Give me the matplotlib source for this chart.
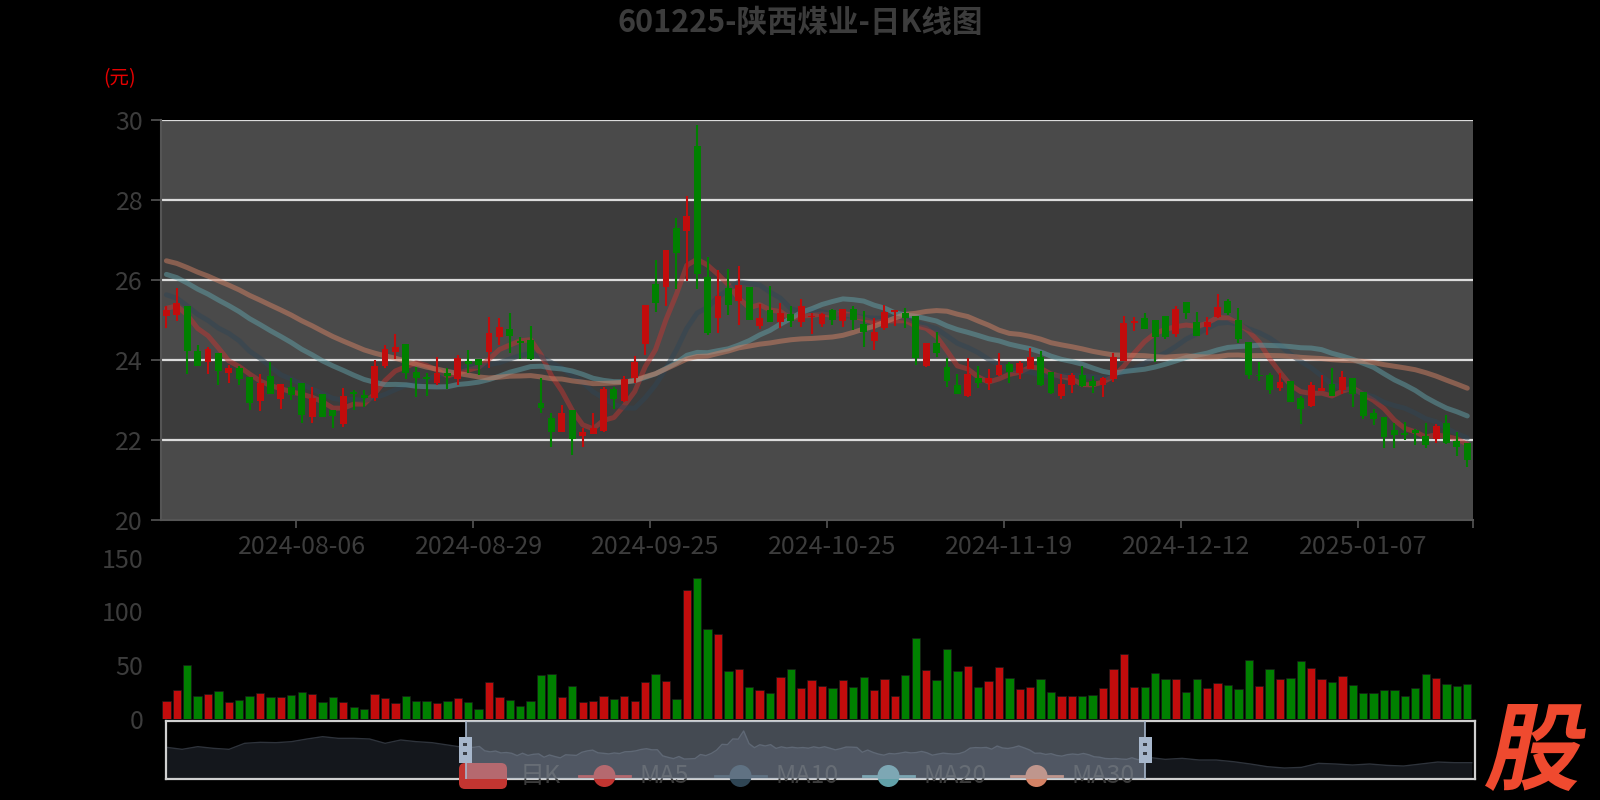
import numpy as np
import pandas as pd
import matplotlib
matplotlib.use("Agg")
import matplotlib.pyplot as plt
from matplotlib.patches import Rectangle, FancyBboxPatch, Circle, PathPatch
from matplotlib.textpath import TextPath
from matplotlib.font_manager import FontProperties
from matplotlib.transforms import Affine2D, blended_transform_factory

plt.rcParams["font.family"] = ["Noto Sans CJK SC", "DejaVu Sans"]

title = "601225-陕西煤业-日K线图"
unit_label = "(元)"

# trading days (weekdays minus exchange holidays)
holidays = ["2024-09-16", "2024-09-17", "2024-10-01", "2024-10-02", "2024-10-03",
            "2024-10-04", "2024-10-07", "2025-01-01"]
dates = pd.bdate_range("2024-07-18", "2025-01-21")
dates = dates[~dates.isin(pd.to_datetime(holidays))]
date_labels = list(dates.strftime("%Y-%m-%d"))

opens = [25.11, 25.14, 25.36, 24.24, 23.97, 24.18, 23.69, 23.80, 23.59, 22.99,
         23.61, 23.04, 23.33, 23.44, 22.58, 23.16, 22.76, 22.41, 23.21, 23.14,
         23.05, 23.86, 24.21, 24.41, 23.72, 23.59, 23.43, 23.68, 23.53, 23.99,
         24.03, 24.22, 24.59, 24.78, 24.49, 24.51, 22.93, 22.55, 22.22, 22.76,
         22.11, 22.16, 22.24, 23.28, 22.99, 23.55, 24.41, 25.91, 25.83, 27.30,
         27.24, 29.36, 26.09, 25.05, 25.80, 25.49, 25.83, 24.86, 25.26, 24.97,
         25.16, 24.97, 25.08, 24.91, 25.26, 24.99, 25.28, 24.91, 24.49, 24.80,
         25.21, 25.18, 25.11, 23.86, 24.43, 23.83, 23.39, 23.11, 23.55, 23.43,
         23.64, 23.90, 23.69, 23.79, 24.08, 23.72, 23.11, 23.39, 23.64, 23.49,
         23.39, 23.53, 23.99, 24.93, 25.07, 25.01, 25.11, 24.66, 25.47, 24.97,
         24.84, 25.08, 25.49, 25.01, 24.47, 23.61, 23.64, 23.30, 23.49, 23.05,
         22.86, 23.24, 23.41, 23.26, 23.55, 23.22, 22.69, 22.58, 22.26, 22.18,
         22.26, 22.11, 22.03, 22.43, 21.99, 21.93]
closes = [25.26, 25.43, 24.24, 23.87, 24.28, 23.74, 23.80, 23.54, 22.93, 23.43,
          23.16, 23.41, 23.14, 22.64, 23.05, 22.59, 22.62, 23.12, 23.16, 23.05,
          23.86, 24.28, 24.33, 23.68, 23.55, 23.53, 23.68, 23.62, 24.05, 23.90,
          23.89, 24.69, 24.83, 24.61, 24.43, 24.03, 22.80, 22.22, 22.68, 22.03,
          22.22, 22.30, 23.28, 23.03, 23.53, 23.97, 25.39, 25.43, 26.76, 26.69,
          27.61, 26.16, 24.68, 25.62, 25.39, 25.89, 25.01, 25.05, 24.97, 25.19,
          24.99, 25.36, 25.11, 25.16, 25.01, 25.28, 25.01, 24.72, 24.72, 25.22,
          25.26, 25.05, 24.05, 24.43, 24.19, 23.49, 23.16, 23.66, 23.43, 23.55,
          23.89, 23.72, 23.93, 24.08, 23.39, 23.18, 23.41, 23.64, 23.36, 23.35,
          23.55, 24.09, 24.94, 24.99, 24.78, 24.58, 24.59, 25.28, 25.19, 24.61,
          24.97, 25.33, 25.18, 24.53, 23.64, 23.61, 23.26, 23.47, 22.97, 22.78,
          23.39, 23.30, 23.11, 23.58, 23.16, 22.61, 22.53, 22.09, 22.14, 22.13,
          22.18, 21.89, 22.36, 21.93, 21.84, 21.51]
highs = [25.36, 25.80, 25.36, 24.39, 24.34, 24.18, 23.89, 23.86, 23.59, 23.66,
         23.95, 23.42, 23.55, 23.44, 23.34, 23.16, 22.76, 23.30, 23.26, 23.26,
         24.00, 24.39, 24.66, 24.41, 23.83, 23.68, 24.09, 23.80, 24.14, 24.26,
         24.03, 25.09, 25.05, 25.18, 24.59, 24.86, 23.55, 22.69, 22.89, 22.76,
         22.30, 22.69, 23.34, 23.33, 23.61, 24.11, 25.39, 26.51, 26.76, 27.55,
         28.11, 29.89, 26.59, 26.26, 26.28, 26.37, 25.83, 25.41, 25.86, 25.44,
         25.36, 25.53, 25.18, 25.19, 25.28, 25.28, 25.36, 25.24, 25.05, 25.39,
         25.26, 25.30, 25.11, 24.43, 24.72, 24.05, 23.66, 24.05, 23.85, 23.78,
         24.19, 23.97, 23.99, 24.30, 24.24, 23.72, 23.66, 23.69, 23.86, 23.61,
         23.59, 24.18, 25.11, 25.08, 25.18, 25.01, 25.11, 25.36, 25.47, 25.22,
         25.09, 25.66, 25.53, 25.30, 24.47, 23.97, 23.68, 23.69, 23.49, 23.11,
         23.47, 23.64, 23.80, 23.74, 23.55, 23.22, 22.78, 22.58, 22.43, 22.47,
         22.28, 22.43, 22.41, 22.64, 22.22, 21.93]
lows = [24.80, 24.99, 23.66, 23.86, 23.66, 23.38, 23.43, 23.38, 22.76, 22.74,
        23.15, 22.79, 23.01, 22.43, 22.43, 22.58, 22.30, 22.34, 22.76, 22.84,
        22.99, 23.80, 24.03, 23.53, 23.09, 23.11, 23.39, 23.28, 23.39, 23.68,
        23.64, 23.82, 24.39, 24.18, 24.03, 24.00, 22.68, 21.83, 22.20, 21.64,
        21.83, 22.15, 22.22, 22.78, 22.97, 23.44, 24.14, 25.22, 25.36, 25.78,
        25.99, 25.78, 24.64, 24.69, 25.14, 24.89, 25.00, 24.78, 24.97, 24.80,
        24.83, 24.83, 24.66, 24.84, 24.89, 24.84, 24.76, 24.34, 24.26, 24.76,
        24.86, 24.80, 23.89, 23.84, 24.09, 23.33, 23.15, 23.09, 23.30, 23.25,
        23.61, 23.44, 23.53, 23.78, 23.36, 23.17, 23.03, 23.18, 23.33, 23.19,
        23.08, 23.47, 23.99, 24.74, 24.78, 23.97, 24.53, 24.59, 25.03, 24.60,
        24.64, 25.05, 25.14, 24.44, 23.53, 23.49, 23.16, 23.24, 22.96, 22.41,
        22.83, 23.24, 23.10, 23.16, 22.84, 22.53, 22.39, 21.82, 21.82, 22.00,
        21.89, 21.80, 21.94, 21.92, 21.61, 21.33]
volumes = [16.4, 26.9, 50.1, 21.7, 23.2, 26.0, 15.8, 17.6, 21.4, 24.1,
           20.4, 20.4, 22.3, 25.1, 23.5, 16.1, 20.4, 16.1, 10.8, 9.6,
           23.2, 19.5, 14.6, 21.4, 17.0, 16.7, 14.6, 17.0, 19.8, 16.1,
           9.3, 34.1, 20.1, 17.6, 12.4, 16.7, 40.9, 41.8, 20.7, 30.9,
           15.8, 17.0, 21.4, 18.6, 21.7, 16.4, 34.7, 41.8, 35.3, 18.6,
           119.8, 130.9, 83.9, 78.6, 44.6, 46.7, 30.0, 26.9, 24.4, 39.0,
           46.5, 28.5, 36.2, 30.6, 29.1, 36.2, 30.0, 39.3, 26.9, 37.1,
           21.4, 41.1, 74.9, 45.5, 35.9, 64.7, 44.3, 48.9, 29.7, 35.0,
           48.6, 38.1, 27.5, 29.4, 37.1, 25.1, 21.4, 21.4, 21.4, 22.0,
           28.8, 46.4, 60.4, 30.0, 29.4, 43.0, 37.1, 37.1, 25.1, 37.1,
           28.5, 33.4, 31.2, 27.5, 54.5, 30.6, 46.4, 37.1, 38.3, 53.9,
           47.0, 36.8, 34.6, 39.6, 31.5, 24.4, 23.8, 26.9, 26.6, 21.7,
           28.8, 41.7, 37.7, 32.5, 30.6, 32.8]

# closes of the 29 sessions before the first shown day (feed the moving averages)
closes_before = [27.40, 27.35, 27.30, 27.25, 27.20, 27.15, 27.10, 27.05, 27.00, 26.90,
                 27.05, 26.95, 26.90, 26.80, 26.70, 26.60, 26.55, 26.45, 26.35, 26.25,
                 26.30, 26.15, 26.00, 25.80, 25.65, 25.13, 25.37, 25.55, 25.20]

# data shadow of the zoom slider outside the selected window
shadow_before = [25.14, 24.62, 25.31, 24.88, 24.62, 26.17, 26.43, 26.34, 26.60, 27.29,
                 27.89, 27.46, 27.46, 27.29, 26.17, 27.03, 26.60, 26.34, 25.74, 25.14]
shadow_after = [22.55, 22.03, 22.29, 21.86, 21.86, 21.43, 20.83, 20.14, 19.79, 19.96,
                21.00, 20.83, 20.57, 20.83, 20.48, 20.31, 20.83, 21.34, 21.17, 21.17]

ma_periods = [5, 10, 20, 30]
ma_names = ["MA5", "MA10", "MA20", "MA30"]
ma_colors = ["#c23531", "#2f4554", "#61a0a8", "#d48265"]

UP = "#c20c0c"
DOWN = "#008000"
TXT = "#3c3c3c"
W, H = 1600, 800


def box(x0, y0, x1, y1):
    return [x0 / W, 1 - y1 / H, (x1 - x0) / W, (y1 - y0) / H]


o = np.array(opens)
c = np.array(closes)
h = np.array(highs)
l = np.array(lows)
n = len(c)
x = np.arange(n)
prev = np.concatenate([[closes_before[-1]], c[:-1]])
up = (c > o) | ((c == o) & (c >= prev))
candle_colors = np.where(up, UP, DOWN)
vol_colors = np.where(c >= o, UP, DOWN)

all_closes = pd.Series(closes_before + closes)
mas = [all_closes.rolling(p).mean().to_numpy()[-n:] for p in ma_periods]

fig = plt.figure(figsize=(16, 8), dpi=100, facecolor="black")

# --- price panel
ax = fig.add_axes(box(161.2, 120.4, 1472.5, 520.4))
ax.set_facecolor("black")
for k, lo in enumerate(range(20, 30, 2)):
    ax.axhspan(lo, lo + 2, color="#4a4a4a" if k % 2 == 0 else "#3c3c3c", lw=0, zorder=0)
for y in range(22, 31, 2):
    ax.axhline(y, color="#dcdcdc", lw=1.6, zorder=1)

for ma, col in zip(mas, ma_colors):
    ax.plot(x, ma, color=col, lw=3.6, alpha=0.5, zorder=2, solid_capstyle="round")

ax.vlines(x, l, h, colors=candle_colors, lw=1.5, zorder=3)
body = np.maximum(np.abs(c - o), 0.03)
ax.bar(x, body, width=0.66, bottom=np.minimum(o, c), color=candle_colors, lw=0, zorder=4)

ax.set_xlim(-0.5, n - 0.5)
ax.set_ylim(20, 30)
ax.set_yticks(range(20, 31, 2))
label_idx = list(range(13, n, 17))
ax.set_xticks(label_idx)
ax.set_xticklabels([date_labels[i] for i in label_idx])
ax.set_xticks([i - 0.5 for i in label_idx] + [n - 0.5], minor=True)
ax.tick_params(axis="y", length=7, width=1.2, color="#555555", pad=6,
               labelsize=18, labelcolor=TXT)
ax.tick_params(axis="x", which="major", length=0, pad=10, labelsize=18, labelcolor=TXT)
ax.tick_params(axis="x", which="minor", length=6, width=1.2, color="#555555")
for s in ["top", "right"]:
    ax.spines[s].set_visible(False)
for s in ["left", "bottom"]:
    ax.spines[s].set_color("#555555")
    ax.spines[s].set_linewidth(1.5)

# --- volume panel
vx = fig.add_axes(box(161.2, 557.5, 1472.5, 719))
vx.set_facecolor("none")
vx.bar(x, volumes, width=0.8, color=vol_colors, edgecolor="#1a1a1a", lw=0.5)
vx.set_xlim(-0.5, n - 0.5)
vx.set_ylim(0, 150)
vx.set_yticks([0, 50, 100, 150])
vx.set_xticks([])
vx.tick_params(axis="y", length=0, pad=13, labelsize=18, labelcolor=TXT)
for s in vx.spines.values():
    s.set_visible(False)

# --- zoom slider: shadow and frame (below the legend)
slider_box = box(166, 721, 1475, 779)
sl = fig.add_axes(slider_box, zorder=1)
sl.set_facecolor("none")
sx = np.concatenate([np.linspace(-56, -1, len(shadow_before)), x,
                     np.linspace(n, n + 60, len(shadow_after))])
sy = np.concatenate([shadow_before, o, shadow_after])
ymin, ymax = 16.96, 31.94
sl.fill_between(sx, sy, ymin, color="#14171c", lw=0)
sl.plot(sx, sy, color="#2e333b", lw=1)
sl.set_xlim(-56.1, 186.6)
sl.set_ylim(ymin, ymax)
sl.set_xticks([])
sl.set_yticks([])
for s in sl.spines.values():
    s.set_color("#d0d0d0")
    s.set_linewidth(1.6)

# --- overlay: title, unit, legend, watermark
ov = fig.add_axes([0, 0, 1, 1], zorder=2)
ov.set_xlim(0, W)
ov.set_ylim(H, 0)
ov.axis("off")
ov.text(800, 23, title, ha="center", va="center", fontsize=22, fontweight="bold", color=TXT)
ov.text(120, 79, unit_label, ha="center", va="center", fontsize=14, color="#e60000")

ly = 776
ov.add_patch(FancyBboxPatch((459, 763), 48, 26, boxstyle="round,pad=0,rounding_size=6",
                            color="#c23531", lw=0))
ov.text(520, ly, "日K", ha="left", va="center", fontsize=18, color=TXT)
icon_x = [579, 715, 863, 1011]
for ix, name, col in zip(icon_x, ma_names, ma_colors):
    ov.plot([ix, ix + 51], [ly, ly], color=col, lw=2)
    ov.add_patch(Circle((ix + 25.5, ly), 11, color=col, lw=0))
    ov.text(ix + 61, ly, name, ha="left", va="center", fontsize=18, color=TXT)

fp = FontProperties(family="Noto Sans CJK SC", weight="bold")
glyph = Affine2D().skew_deg(12, 0).transform_path(TextPath((0, 0), "股", size=100, prop=fp))
ext = glyph.get_extents()
sc = 87 / ext.height
glyph = Affine2D().translate(-ext.x0, -ext.y0).scale(sc, -sc).translate(1485, 791).transform_path(glyph)
ov.add_patch(PathPatch(glyph, color="#ef4a2f", lw=0))

# --- zoom slider: selected window and handles (above the legend)
sw = fig.add_axes(slider_box, zorder=3)
sw.set_facecolor("none")
sw.axvspan(-0.5, n - 0.5, color="#a4b2c6", alpha=0.42, lw=0)
sw.set_xlim(-56.1, 186.6)
sw.set_ylim(ymin, ymax)
bt = blended_transform_factory(sw.transData, sw.transAxes)
for edge in [-0.5, n - 0.5]:
    sw.axvline(edge, color="#a7b7cc", lw=1.2)
    sw.add_patch(Rectangle((edge - 1.2, 0.276), 2.4, 0.448, transform=bt,
                           color="#a7b7cc", lw=0, zorder=5))
    for fy in [0.44, 0.60]:
        sw.add_patch(Rectangle((edge - 0.5, fy - 0.025), 0.8, 0.05, transform=bt,
                               color="#3a3f48", lw=0, zorder=6))
sw.axis("off")

fig.savefig("out.png", dpi=100, facecolor="black")
